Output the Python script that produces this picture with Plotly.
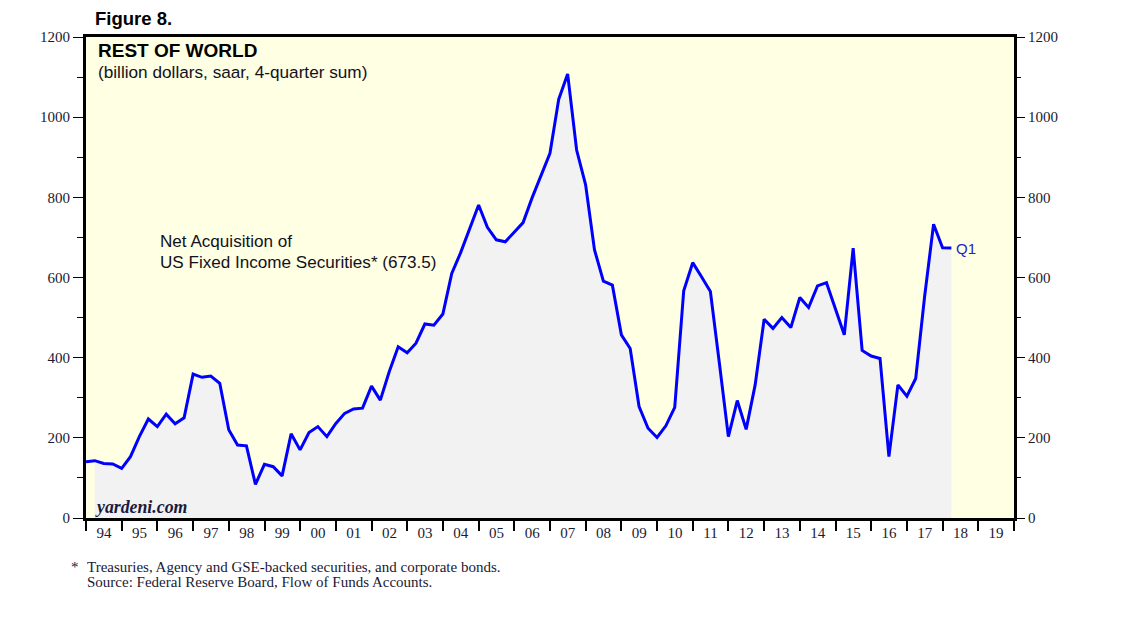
import pandas as pd
import plotly.graph_objects as go

# Quarterly data, 1993 Q4 .. 2018 Q1 (billion dollars, saar, 4-quarter sum)
start_quarter_end = "1993-12-31"
values = [
    140, 143, 136, 135, 124, 153, 203, 247, 228, 259,
    235, 250, 359, 351, 354, 336, 220, 182, 180, 84,
    134, 128, 105, 210, 170, 213, 228, 203, 236, 261,
    272, 274, 329, 294, 365, 427, 412, 436, 484, 481,
    509, 610, 662, 723, 781, 725, 694, 689, 713, 737,
    798, 852, 910, 1045, 1108, 918, 831, 669, 591, 581,
    457, 423, 278, 224, 201, 230, 276, 567, 637, 602,
    565, 386, 203, 293, 221, 332, 496, 473, 500, 475,
    550, 525, 579, 587, 523, 457, 673, 418, 404, 398,
    153, 332, 304, 348, 552, 733, 674, 673.5,
]
dates = pd.date_range(start_quarter_end, periods=len(values), freq="QE")

years = list(range(1994, 2020))
year_labels = [f"{y % 100:02d}" for y in years]
year_bounds = [f"{y}-01-01" for y in years + [2020]]
year_mids = [f"{y}-07-02" for y in years]

y_major = [0, 200, 400, 600, 800, 1000, 1200]

serif = "Liberation Serif"
sans = "Liberation Sans"

fig = go.Figure()

# grey area under the line
fig.add_trace(go.Scatter(
    x=dates[1:], y=values[1:], mode="lines", line=dict(width=0),
    fill="tozeroy", fillcolor="#F2F2F2", hoverinfo="skip", showlegend=False,
))
# blue line
fig.add_trace(go.Scatter(
    x=dates, y=values, mode="lines", line=dict(color="#0000FF", width=3),
    showlegend=False,
))
# invisible trace to carry overlay axes (labels at mid-year, right axis)
fig.add_trace(go.Scatter(
    x=dates, y=values, mode="lines", line=dict(width=0), opacity=0,
    xaxis="x2", yaxis="y2", hoverinfo="skip", showlegend=False,
))

xrange = ["1993-12-31", "2020-01-01"]
tick_font = dict(family=serif, size=15, color="#1a1a33")

fig.update_layout(
    width=1130, height=613,
    margin=dict(l=78, r=124, t=29, b=103),
    paper_bgcolor="white",
    plot_bgcolor="#FFFFE3",
    xaxis=dict(
        range=xrange, showgrid=False, zeroline=False,
        tickmode="array", tickvals=year_bounds, showticklabels=False,
        ticks="outside", ticklen=10, tickwidth=1.5, tickcolor="black",
        showline=True, linecolor="black", linewidth=3, mirror=True,
    ),
    xaxis2=dict(
        range=xrange, overlaying="x", anchor="y2", side="bottom",
        showgrid=False, zeroline=False, showline=False,
        tickmode="array", tickvals=year_mids, ticktext=year_labels,
        ticks="outside", ticklen=1, tickcolor="rgba(0,0,0,0)",
        tickfont=tick_font,
    ),
    yaxis=dict(
        range=[0, 1200], showgrid=False, zeroline=False,
        tickmode="array", tickvals=y_major,
        ticks="outside", ticklen=10, tickwidth=1.2, tickcolor="black",
        minor=dict(dtick=100, tick0=0, ticks="outside", ticklen=6,
                   tickwidth=1.2, tickcolor="black", showgrid=False),
        tickfont=tick_font,
        showline=True, linecolor="black", linewidth=3, mirror=True,
    ),
    yaxis2=dict(
        range=[0, 1200], overlaying="y", side="right", anchor="x2",
        showgrid=False, zeroline=False, showline=False,
        tickmode="array", tickvals=y_major,
        ticks="outside", ticklen=10, tickwidth=1.2, tickcolor="black",
        minor=dict(dtick=100, tick0=0, ticks="outside", ticklen=6,
                   tickwidth=1.2, tickcolor="black", showgrid=False),
        tickfont=tick_font,
    ),
    hovermode=False,
)

text_col = "#111122"
ann = []
ann.append(dict(text="<b>Figure 8.</b>", xref="paper", yref="paper",
                x=0.0075, y=1.039, xanchor="left", yanchor="middle",
                showarrow=False, font=dict(family=sans, size=18.5, color="black")))
ann.append(dict(text="<b>REST OF WORLD</b>", xref="paper", yref="paper",
                x=0.0108, y=0.971, xanchor="left", yanchor="middle",
                showarrow=False, font=dict(family=sans, size=19, color="black")))
ann.append(dict(text="(billion dollars, saar, 4-quarter sum)", xref="paper", yref="paper",
                x=0.0108, y=0.927, xanchor="left", yanchor="middle",
                showarrow=False, font=dict(family=sans, size=17.2, color=text_col)))
ann.append(dict(text="Net Acquisition of", xref="paper", yref="paper",
                x=0.0776, y=0.574, xanchor="left", yanchor="middle",
                showarrow=False, font=dict(family=sans, size=17.1, color=text_col)))
ann.append(dict(text=f"US Fixed Income Securities* ({values[-1]})", xref="paper", yref="paper",
                x=0.0776, y=0.532, xanchor="left", yanchor="middle",
                showarrow=False, font=dict(family=sans, size=17.1, color=text_col)))
ann.append(dict(text="Q1", xref="x", yref="y", x=dates[-1], y=values[-1],
                xanchor="left", yanchor="middle", xshift=3,
                showarrow=False, font=dict(family=sans, size=15, color="#2222CC")))
ann.append(dict(text="<b><i>yardeni.com</i></b>", xref="paper", yref="paper",
                x=0.0075, y=0.022, xanchor="left", yanchor="middle",
                showarrow=False, font=dict(family=serif, size=17.8, color="#1a1a40")))
foot_font = dict(family=serif, size=15, color="#1a1a33")
ann.append(dict(text="*", xref="paper", yref="paper",
                x=-0.0183, y=-0.102, xanchor="left", yanchor="middle",
                showarrow=False, font=foot_font))
ann.append(dict(text="Treasuries, Agency and GSE-backed securities, and corporate bonds.",
                xref="paper", yref="paper", x=-0.001, y=-0.101,
                xanchor="left", yanchor="middle", showarrow=False, font=foot_font))
ann.append(dict(text="Source: Federal Reserve Board, Flow of Funds Accounts.",
                xref="paper", yref="paper", x=-0.001, y=-0.134,
                xanchor="left", yanchor="middle", showarrow=False, font=foot_font))
fig.update_layout(annotations=ann)

fig.write_html("out.html")
